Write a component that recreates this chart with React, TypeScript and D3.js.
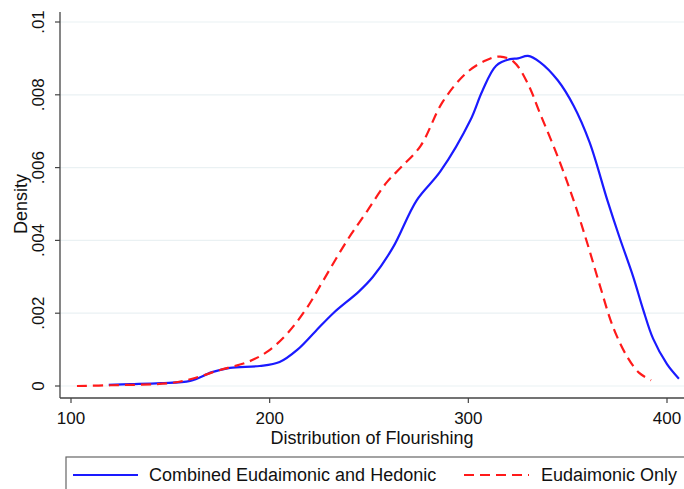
import { useMemo } from 'react';
import * as d3 from 'd3';

// flourishing score (x) and kernel density (y)
const combinedX = [119, 130, 145, 160, 171, 180, 195, 205, 214, 223, 232, 245, 252, 262, 274, 286, 301, 307, 314, 321, 325, 330, 336, 345, 353, 361, 370, 376, 383, 388, 393, 400, 406];
const combinedY = [0.00003, 0.00005, 0.00008, 0.00014, 0.00038, 0.0005, 0.00055, 0.00066, 0.001, 0.0015, 0.002, 0.0026, 0.003, 0.0038, 0.0051, 0.0059, 0.0073, 0.0081, 0.0088, 0.00898, 0.009, 0.00907, 0.0089, 0.0084, 0.0077, 0.0067, 0.0051, 0.0041, 0.003, 0.0021, 0.0013, 0.0006, 0.0002];

const eudaimonicX = [103, 120, 150, 161, 175, 189, 199, 209, 219, 227, 239, 249, 259, 266, 276, 287, 299, 309, 316, 323, 330, 336, 345, 353, 360, 366, 373, 380, 386, 392];
const eudaimonicY = [0, 0.00002, 0.00008, 0.0002, 0.00044, 0.00066, 0.00095, 0.00145, 0.00217, 0.0029, 0.004, 0.0048, 0.0056, 0.006, 0.0066, 0.0078, 0.0086, 0.00895, 0.00905, 0.0089, 0.0083, 0.0075, 0.0063, 0.0051, 0.0039, 0.0028, 0.0016, 0.0008, 0.00036, 0.00016];

const xTicks = [100, 200, 300, 400];
const yTicks = [0, 0.002, 0.004, 0.006, 0.008, 0.01];
const yTickLabels = ['0', '.002', '.004', '.006', '.008', '.01'];

const seriesNames = ['Combined Eudaimonic and Hedonic', 'Eudaimonic Only'];

const W = 684;
const H = 489;
const FONT = '"Liberation Sans", Arial, Helvetica, sans-serif';

export default function App() {
  const plot = { left: 60, right: 684, top: 12, bottom: 398 };

  const x = useMemo(() => d3.scaleLinear().domain([100, 400]).range([71, 667]), []);
  const y = useMemo(() => d3.scaleLinear().domain([0, 0.01]).range([386, 22]), []);

  const line = d3.line<[number, number]>()
    .x(d => x(d[0]))
    .y(d => y(d[1]))
    .curve(d3.curveCatmullRom.alpha(0.5));

  const blue = line(combinedX.map((v, i) => [v, combinedY[i]]) as [number, number][]) ?? '';
  const red = line(eudaimonicX.map((v, i) => [v, eudaimonicY[i]]) as [number, number][]) ?? '';

  const axisCol = '#444';

  return (
    <div style={{ position: 'fixed', left: 0, top: 0, width: W, height: H, background: '#fff' }}>
      <svg width={W} height={H} style={{ display: 'block', fontFamily: FONT }}>
        <rect width={W} height={H} fill="#fff" />

        {/* grid */}
        {yTicks.map(t => (
          <line key={'g' + t} x1={plot.left} x2={plot.right} y1={y(t)} y2={y(t)}
            stroke="#eaf1f3" strokeWidth={1.2} />
        ))}

        {/* axes */}
        <line x1={plot.left} x2={plot.left} y1={plot.top} y2={plot.bottom} stroke={axisCol} strokeWidth={1.3} />
        <line x1={plot.left} x2={plot.right} y1={plot.bottom} y2={plot.bottom} stroke={axisCol} strokeWidth={1.3} />

        {yTicks.map((t, i) => (
          <g key={'y' + t}>
            <line x1={plot.left - 5} x2={plot.left} y1={y(t)} y2={y(t)} stroke={axisCol} strokeWidth={1.2} />
            <text transform={`translate(44,${y(t)}) rotate(-90)`} textAnchor="middle"
              fontSize={17} fill="#111">{yTickLabels[i]}</text>
          </g>
        ))}
        {xTicks.map(t => (
          <g key={'x' + t}>
            <line x1={x(t)} x2={x(t)} y1={plot.bottom} y2={plot.bottom + 5} stroke={axisCol} strokeWidth={1.2} />
            <text x={x(t)} y={424} textAnchor="middle" fontSize={17} fill="#111">{t}</text>
          </g>
        ))}

        <text transform={`translate(27,204) rotate(-90)`} textAnchor="middle" fontSize={18} fill="#111">Density</text>
        <text x={372} y={444} textAnchor="middle" fontSize={18} fill="#111">Distribution of Flourishing</text>

        {/* curves */}
        <path d={blue} fill="none" stroke="#1a1aff" strokeWidth={2.2} />
        <path d={red} fill="none" stroke="#ff1a1a" strokeWidth={2.2} strokeDasharray="10,6" />

        {/* legend */}
        <rect x={66} y={457} width={W} height={60} fill="#fff" stroke="#666" strokeWidth={1.2} />
        <line x1={73} x2={138} y1={475} y2={475} stroke="#1a1aff" strokeWidth={2.2} />
        <text x={149} y={481} fontSize={18} fill="#111">{seriesNames[0]}</text>
        <line x1={464} x2={529} y1={475} y2={475} stroke="#ff1a1a" strokeWidth={2.2} strokeDasharray="10,6" />
        <text x={541} y={481} fontSize={18} fill="#111">{seriesNames[1]}</text>
      </svg>
    </div>
  );
}
